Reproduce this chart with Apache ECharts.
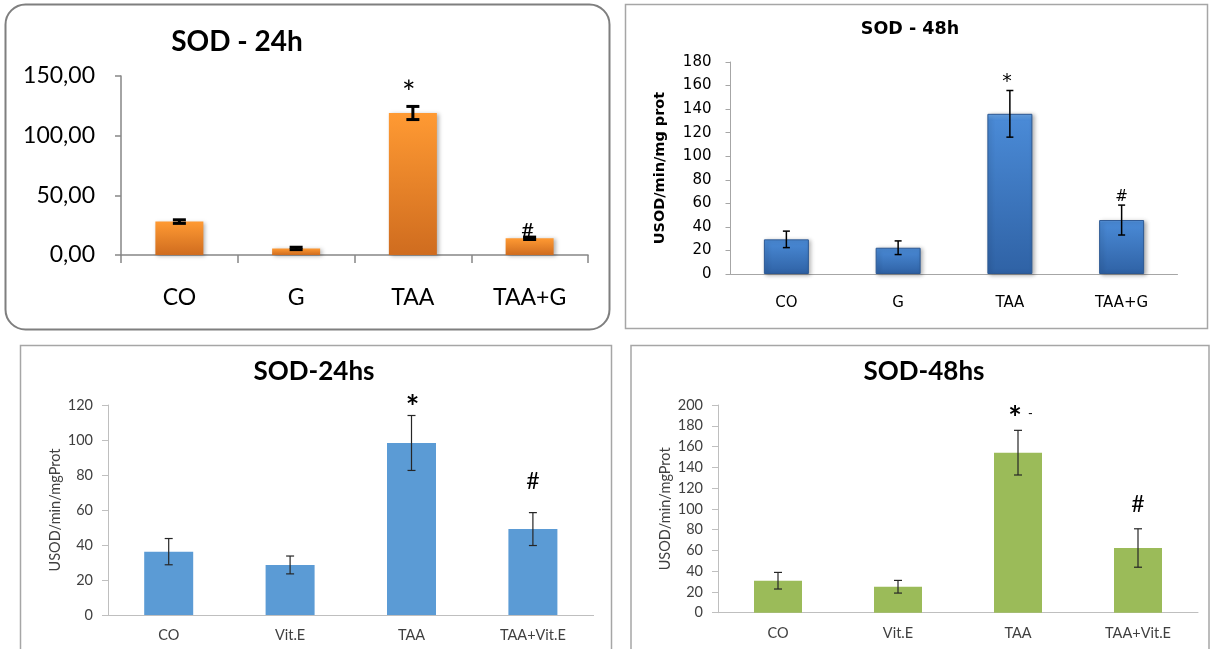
<!DOCTYPE html>
<html><head><meta charset="utf-8">
<script src="https://cdn.jsdelivr.net/npm/echarts@6/dist/echarts.min.js"></script>
<style>html,body{margin:0;padding:0;background:#fff}#c{width:1212px;height:649px}</style>
</head><body><div id="c"></div>
<script>
// ---- data ----
const catsG = ['CO', 'G', 'TAA', 'TAA+G'];
const catsE = ['CO', 'Vit.E', 'TAA', 'TAA+Vit.E'];

const sod24gMean = [28, 5.5, 119, 14];
const sod24gErr = [1.5, 1, 5.5, 1];
const sod24gMarks = ['', '', '*', '#'];

const sod48gMean = [29.4, 22.3, 136, 45.8];
const sod48gErr = [7, 5.8, 19.8, 12.7];
const sod48gMarks = ['', '', '*', '#'];

const sod24eMean = [36.2, 28.6, 98.3, 49.1];
const sod24eErr = [7.5, 5.1, 15.7, 9.4];
const sod24eMarks = ['', '', '*', '#'];

const sod48eMean = [30.8, 25, 154.1, 62.3];
const sod48eErr = [8, 6.1, 21.5, 18.5];
const sod48eMarks = ['', '', '*|-', '#'];

const titles = ['SOD - 24h', 'SOD - 48h', 'SOD-24hs', 'SOD-48hs'];
const yNames = ['', 'USOD/min/mg prot', 'USOD/min/mgProt', 'USOD/min/mgProt'];
const yMax = [150, 180, 120, 200];
const yStep = [50, 20, 20, 20];

// ---- styles / layout ----
const panels = [
  {cats: catsG, mean: sod24gMean, err: sod24gErr, marks: sod24gMarks,
   grid: {left: 121, top: 76, width: 467, height: 179}, barW: 48,
   color: {type: 'linear', x: 0, y: 0, x2: 0, y2: 1, colorStops: [{offset: 0, color: '#ff9a33'}, {offset: 1, color: '#cf6c1f'}]},
   border: null, shadow: true,
   font: 'Lato', tickSize: 23, tickColor: '#000', tickMargin: 26, labSize: 23, labMargin: 31,
   axisColor: '#868686', axisW: 1.5, xTicks: true, yTickLen: 6,
   errColor: '#000', errW: 3, capW: 13,
   fmt: v => v.toFixed(2).replace('.', ','),
   mark: {'*': {dy: -13, dx: -4, size: 32, weight: 'normal'}, '#': {dy: -6, dx: -2, size: 22, weight: 'normal'}},
   title: {x: 237, y: 42, size: 28}, nameSize: 0, nameGap: 0},
  {cats: catsG, mean: sod48gMean, err: sod48gErr, marks: sod48gMarks,
   grid: {left: 730.5, top: 62, width: 447, height: 212}, barW: 45,
   color: {type: 'linear', x: 0, y: 0, x2: 0, y2: 1, colorStops: [{offset: 0, color: '#6aa6e8'}, {offset: 0.04, color: '#4a8ad6'}, {offset: 1, color: '#2f62a5'}]},
   borderColor: '#2c5893', shadow: true,
   font: 'DejaVu Sans', tickSize: 15, tickColor: '#000', tickMargin: 19, labSize: 15, labMargin: 22,
   axisColor: '#a6a6a6', axisW: 1, xTicks: false, yTickLen: 5,
   errColor: '#000', errW: 1.5, capW: 7,
   fmt: v => String(v),
   mark: {'*': {dy: -8, dx: -3, size: 19, weight: 'normal'}, '#': {dy: -8, dx: 0, size: 15, weight: 'normal'}},
   title: {x: 910, y: 29, size: 17.5}, nameSize: 14.5, nameGap: 63, nameFont: 'DejaVu Sans', nameWeight: 'bold'},
  {cats: catsE, mean: sod24eMean, err: sod24eErr, marks: sod24eMarks,
   grid: {left: 108, top: 405, width: 485.6, height: 210}, barW: 49,
   color: '#5b9bd5', shadow: false,
   font: 'Lato', tickSize: 14.5, tickColor: '#404040', tickMargin: 15, labSize: 14.5, labMargin: 13,
   axisColor: '#bfbfbf', axisW: 1, xTicks: false, yTickLen: 6,
   errColor: '#262626', errW: 1.2, capW: 8,
   fmt: v => String(v),
   mark: {'*': {dy: -7, dx: 1, size: 32, weight: 'bold'}, '#': {dy: -31, dx: 0, size: 23, weight: 'normal'}},
   title: {x: 314, y: 372, size: 26}, nameSize: 14.5, nameGap: 45, nameFont: 'Lato', nameWeight: 'normal'},
  {cats: catsE, mean: sod48eMean, err: sod48eErr, marks: sod48eMarks,
   grid: {left: 718, top: 405, width: 480, height: 207.7}, barW: 48,
   color: '#9bbb59', shadow: false,
   font: 'Lato', tickSize: 14.5, tickColor: '#404040', tickMargin: 15, labSize: 14.5, labMargin: 13,
   axisColor: '#bfbfbf', axisW: 1, xTicks: false, yTickLen: 6,
   errColor: '#262626', errW: 1.2, capW: 8,
   fmt: v => String(v),
   mark: {'*': {dy: -11, dx: -3, size: 32, weight: 'bold'}, '#': {dy: -24, dx: 0, size: 23, weight: 'normal'}},
   title: {x: 924, y: 372, size: 26}, nameSize: 14.5, nameGap: 45, nameFont: 'Lato', nameWeight: 'normal'}
];

function makeRender(p) {
  return function (params, api) {
    const i = api.value(0), v = api.value(1), e = api.value(2);
    const top = api.coord([i, v + e]);
    const bot = api.coord([i, v - e]);
    const x = top[0], hw = p.capW / 2;
    const st = {stroke: p.errColor, lineWidth: p.errW};
    const ch = [
      {type: 'line', shape: {x1: x, y1: top[1], x2: x, y2: bot[1]}, style: st},
      {type: 'line', shape: {x1: x - hw, y1: top[1], x2: x + hw, y2: top[1]}, style: st},
      {type: 'line', shape: {x1: x - hw, y1: bot[1], x2: x + hw, y2: bot[1]}, style: st}
    ];
    const m = p.marks[i];
    if (m) {
      const parts = m.split('|');
      const ms = p.mark[parts[0]];
      ch.push({type: 'text', x: x + ms.dx, y: top[1] + ms.dy,
        style: {text: parts[0], fill: '#000', font: ms.weight + ' ' + ms.size + 'px ' + p.font,
          align: 'center', verticalAlign: 'middle'}});
      if (parts[1]) {
        ch.push({type: 'text', x: x + ms.dx + 13, y: top[1] + ms.dy - 6,
          style: {text: parts[1], fill: '#000', font: 'normal 13px ' + p.font,
            align: 'left', verticalAlign: 'middle'}});
      }
    }
    return {type: 'group', children: ch};
  };
}

const option = {
  backgroundColor: '#fff',
  animation: false,
  grid: panels.map(p => Object.assign({containLabel: false}, p.grid)),
  xAxis: panels.map((p, k) => ({
    type: 'category', gridIndex: k, data: p.cats,
    axisLine: {show: true, lineStyle: {color: p.axisColor, width: p.axisW}},
    axisTick: {show: p.xTicks, length: 8, lineStyle: {color: p.axisColor, width: p.axisW}},
    axisLabel: {fontFamily: p.font, fontSize: p.labSize, color: p.tickColor, margin: p.labMargin, interval: 0},
    splitLine: {show: false}
  })),
  yAxis: panels.map((p, k) => ({
    type: 'value', gridIndex: k, min: 0, max: yMax[k], interval: yStep[k],
    name: yNames[k], nameLocation: 'middle', nameGap: p.nameGap, nameRotate: 90,
    nameTextStyle: {fontFamily: p.nameFont || p.font, fontSize: p.nameSize || 12, fontWeight: p.nameWeight || 'normal', color: p.tickColor === '#000' ? '#000' : '#404040'},
    axisLine: {show: true, lineStyle: {color: p.axisColor, width: p.axisW}},
    axisTick: {show: true, length: p.yTickLen, lineStyle: {color: p.axisColor, width: p.axisW}},
    axisLabel: {fontFamily: p.font, fontSize: p.tickSize, color: p.tickColor, margin: p.tickMargin, formatter: p.fmt},
    splitLine: {show: false}
  })),
  series: [].concat(...panels.map((p, k) => [
    {type: 'bar', xAxisIndex: k, yAxisIndex: k, data: p.mean, barWidth: p.barW,
     itemStyle: Object.assign({color: p.color},
       p.borderColor ? {borderColor: p.borderColor, borderWidth: 1} : {},
       p.shadow ? {shadowColor: 'rgba(0,0,0,0.3)', shadowBlur: 4, shadowOffsetX: 2, shadowOffsetY: 1} : {}),
     emphasis: {disabled: true}, z: 2},
    {type: 'custom', xAxisIndex: k, yAxisIndex: k, coordinateSystem: 'cartesian2d',
     data: p.mean.map((v, i) => [i, v, p.err[i]]), renderItem: makeRender(p), z: 5, silent: true}
  ])),
  graphic: [
    {type: 'rect', shape: {x: 5.5, y: 4.5, width: 604, height: 325, r: 20}, style: {fill: 'none', stroke: '#7f7f7f', lineWidth: 2}, z: 0},
    {type: 'rect', shape: {x: 625.5, y: 4.5, width: 582, height: 324}, style: {fill: 'none', stroke: '#a6a6a6', lineWidth: 1.5}, z: 0},
    {type: 'rect', shape: {x: 20.5, y: 345.5, width: 591, height: 330}, style: {fill: 'none', stroke: '#a6a6a6', lineWidth: 1.5}, z: 0},
    {type: 'rect', shape: {x: 631, y: 345.5, width: 578, height: 330}, style: {fill: 'none', stroke: '#a6a6a6', lineWidth: 1.5}, z: 0}
  ].concat(panels.map((p, k) => ({
    type: 'text', x: p.title.x, y: p.title.y, z: 10,
    style: {text: titles[k], font: 'bold ' + p.title.size + 'px ' + (k === 1 ? 'DejaVu Sans' : 'Lato'), fill: '#000', align: 'center', verticalAlign: 'middle'}
  })))
};

const chart = echarts.init(document.getElementById('c'), null, {renderer: 'canvas'});
chart.setOption(option);
</script>
</body></html>
